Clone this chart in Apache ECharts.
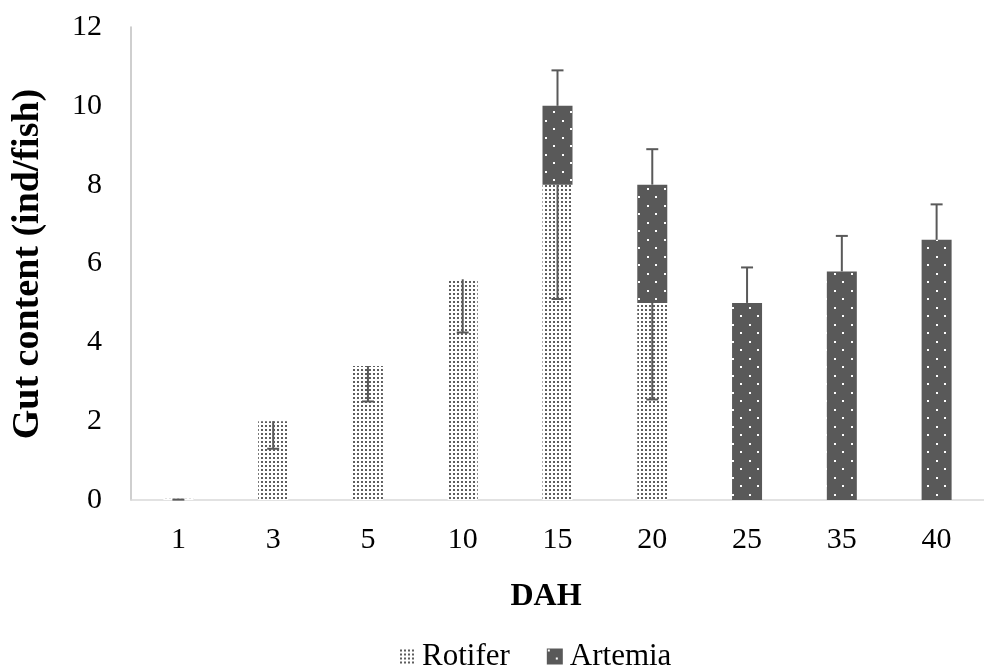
<!DOCTYPE html>
<html>
<head>
<meta charset="utf-8">
<script src="https://cdn.jsdelivr.net/npm/echarts@6/dist/echarts.min.js"></script>
<style>
  html, body { margin: 0; padding: 0; background: #fff; }
  #chart { width: 984px; height: 668px; }
</style>
</head>
<body>
<div id="chart"></div>
<script>
// Gut content per larva by age (days after hatching)
const categories = ['1', '3', '5', '10', '15', '20', '25', '35', '40'];
const rotifer    = [0.03, 2.0, 3.4, 5.6, 8.0, 5.0, 0, 0, 0];
const rotiferSd  = [0.02, 0.7, 0.9, 1.35, 2.9, 2.45, 0, 0, 0];
const artemia    = [0, 0, 0, 0, 2.0, 3.0, 5.0, 5.8, 6.6];
const artemiaSd  = [0, 0, 0, 0, 0.9, 0.9, 0.9, 0.9, 0.9];
const yTicks = { min: 0, max: 12, interval: 2 };

const FONT = "'Liberation Serif', 'Times New Roman', serif";

// Fine grey stipple for the rotifer fill
function rotiferPattern() {
  const c = document.createElement('canvas');
  c.width = 4; c.height = 4;
  const g = c.getContext('2d');
  g.fillStyle = '#ffffff';
  g.fillRect(0, 0, 4, 4);
  g.fillStyle = '#5e5e5e';
  g.fillRect(1, 1, 2, 2);
  return c;
}

// Dark grey fill with staggered white dots for artemia
function artemiaPattern() {
  const c = document.createElement('canvas');
  c.width = 17; c.height = 17;
  const g = c.getContext('2d');
  g.fillStyle = '#595959';
  g.fillRect(0, 0, 17, 17);
  g.fillStyle = '#ffffff';
  g.fillRect(1, 1, 2, 2);
  g.fillRect(9, 9, 2, 2);
  return c;
}

// Error bars: rotifer SD hangs below the rotifer top, artemia SD rises above the stack top
const errData = [];
categories.forEach((cat, i) => {
  if (rotiferSd[i] > 0) errData.push([i, rotifer[i], rotifer[i] - rotiferSd[i]]);
  if (artemiaSd[i] > 0 && artemia[i] > 0) {
    const top = rotifer[i] + artemia[i];
    errData.push([i, top, top + artemiaSd[i]]);
  }
});

const chart = echarts.init(document.getElementById('chart'), null, { renderer: 'canvas' });

chart.setOption({
  animation: false,
  grid: { left: 131, top: 27, width: 867, bottom: 168, containLabel: false },
  legend: {
    top: 636,
    left: 394,
    itemWidth: 16,
    itemHeight: 16,
    itemGap: 37,
    icon: 'rect',
    textStyle: { fontFamily: FONT, fontSize: 31, color: '#000', padding: [0, 0, 0, 2] },
    data: ['Rotifer', 'Artemia']
  },
  graphic: [
    {
      type: 'text',
      x: 28, y: 264,
      rotation: Math.PI / 2,
      style: {
        text: 'Gut content (ind/fish)',
        font: "bold 38px 'Liberation Serif', 'Times New Roman', serif",
        fill: '#000',
        align: 'center',
        verticalAlign: 'middle'
      }
    },
    {
      type: 'text',
      x: 546, y: 597,
      style: {
        text: 'DAH',
        font: "bold 32px 'Liberation Serif', 'Times New Roman', serif",
        fill: '#000',
        align: 'center',
        verticalAlign: 'middle'
      }
    }
  ],
  xAxis: {
    type: 'category',
    data: categories,
    axisLine: { lineStyle: { color: '#d9d9d9', width: 1.5 } },
    axisTick: { show: false },
    axisLabel: { fontFamily: FONT, fontSize: 30, color: '#000', margin: 25 }
  },
  yAxis: {
    type: 'value',
    min: yTicks.min,
    max: yTicks.max,
    interval: yTicks.interval,
    axisLine: { show: true, lineStyle: { color: '#bfbfbf', width: 1.5 } },
    axisTick: { show: false },
    splitLine: { show: false },
    axisLabel: { fontFamily: FONT, fontSize: 30, color: '#000', margin: 29 }
  },
  series: [
    {
      name: 'Rotifer',
      type: 'bar',
      stack: 'gut',
      barWidth: 30,
      itemStyle: { color: { image: rotiferPattern(), repeat: 'repeat' } },
      data: rotifer
    },
    {
      name: 'Artemia',
      type: 'bar',
      stack: 'gut',
      barWidth: 30,
      itemStyle: { color: { image: artemiaPattern(), repeat: 'repeat' } },
      data: artemia
    },
    {
      name: 'sd',
      type: 'custom',
      z: 10,
      data: errData,
      renderItem: function (params, api) {
        const x = api.value(0);
        const p0 = api.coord([x, api.value(1)]);
        const p1 = api.coord([x, api.value(2)]);
        const cap = 6;
        const style = { stroke: '#595959', lineWidth: 2 };
        return {
          type: 'group',
          children: [
            { type: 'line', shape: { x1: p0[0], y1: p0[1], x2: p1[0], y2: p1[1] }, style: style },
            { type: 'line', shape: { x1: p1[0] - cap, y1: p1[1], x2: p1[0] + cap, y2: p1[1] }, style: style }
          ]
        };
      }
    }
  ]
});
</script>
</body>
</html>
